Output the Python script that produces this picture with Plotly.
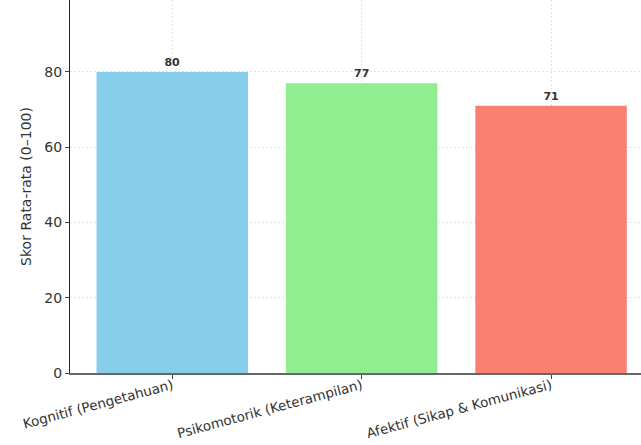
import plotly.graph_objects as go

categories = ["Kognitif (Pengetahuan)", "Psikomotorik (Keterampilan)", "Afektif (Sikap & Komunikasi)"]
scores = [80, 77, 71]
colors = ["#87CEEB", "#90EE90", "#FA8072"]
y_ticks = [0, 20, 40, 60, 80, 100]

fig = go.Figure()
fig.add_trace(go.Bar(
    x=list(range(len(categories))),
    y=scores,
    width=0.8,
    marker=dict(color=colors, line=dict(width=0)),
    text=[str(v) for v in scores],
    textposition="outside",
    textfont=dict(family="DejaVu Sans", size=11, color="#333333", weight="bold"),
    cliponaxis=False,
))

fig.update_layout(
    width=641, height=445,
    margin=dict(l=70, r=0, t=0, b=72),
    plot_bgcolor="white", paper_bgcolor="white",
    font=dict(family="DejaVu Sans", color="#333333", size=14),
    showlegend=False,
    bargap=0.2,
)
fig.update_xaxes(
    range=[-0.54, 2.475],
    automargin=False,
    tickvals=list(range(len(categories))),
    ticktext=categories,
    tickangle=-15,
    ticks="outside", ticklen=4, tickcolor="#444444",
    ticklabelstandoff=-6,
    showline=True, linecolor="#666666", linewidth=1.5,
    showgrid=True, gridcolor="#e2e2e2", griddash="2px,2px", gridwidth=1,
    zeroline=False,
    tickfont=dict(size=13.5, color="#333333"),
)
fig.update_yaxes(
    range=[0, 99.1],
    automargin=False,
    tickvals=y_ticks,
    ticks="outside", ticklen=4, tickcolor="#444444",
    showline=True, linecolor="#222222", linewidth=1.2,
    showgrid=True, gridcolor="#e2e2e2", griddash="2px,2px", gridwidth=1,
    zeroline=False,
    title=dict(text="Skor Rata-rata (0–100)", font=dict(size=14, color="#333333"), standoff=9),
    tickfont=dict(size=14, color="#333333"),
)

fig.write_html("out.html")
